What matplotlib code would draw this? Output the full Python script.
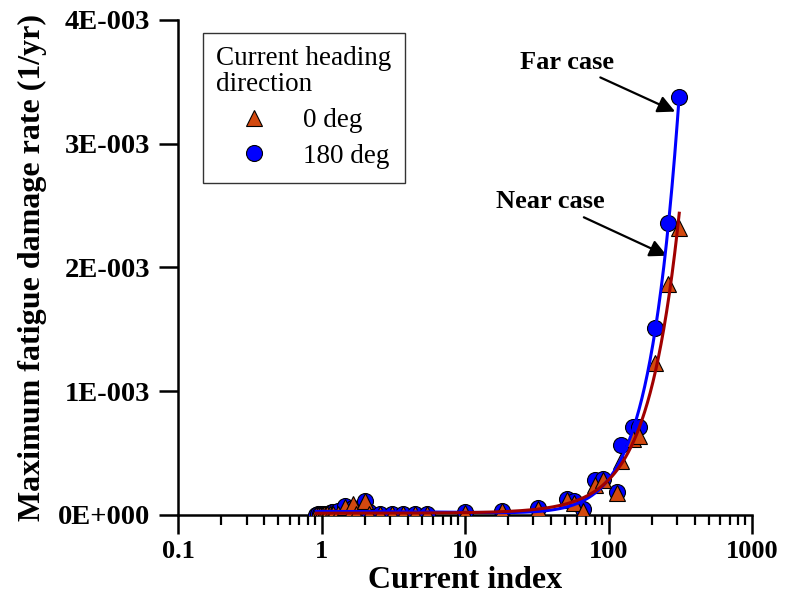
import numpy as np
import matplotlib
matplotlib.use("Agg")
import matplotlib.pyplot as plt

plt.rcParams['font.family'] = ['Liberation Serif', 'DejaVu Serif']

# Current index and max fatigue damage rate (1/yr) for both heading directions
current_index = [0.92, 0.95, 0.98, 1.01, 1.04, 1.07, 1.10, 1.14, 1.18, 1.21, 1.30,
                 1.45, 1.60, 1.67, 1.75, 2.00, 2.13, 2.54, 3.08, 3.72, 4.45, 5.39,
                 10, 18, 32, 51, 57, 66, 80, 91, 114, 123, 147, 164, 210, 260, 311]
damage_180 = [0.003, 0.004, 0.004, 0.005, 0.006, 0.008, 0.010, 0.015, 0.020, 0.025, 0.035,
              0.070, 0.050, 0.060, 0.030, 0.110, 0.020, 0.010, 0.010, 0.010, 0.010, 0.010,
              0.020, 0.035, 0.060, 0.130, 0.110, 0.050, 0.280, 0.290, 0.186, 0.565, 0.710,
              0.710, 1.510, 2.360, 3.380]
damage_0 = [0.002, 0.002, 0.003, 0.003, 0.004, 0.004, 0.005, 0.006, 0.007, 0.008, 0.010,
            0.065, 0.020, 0.090, 0.010, 0.115, 0.005, 0.004, 0.004, 0.004, 0.004, 0.004,
            0.015, 0.030, 0.045, 0.120, 0.100, 0.030, 0.240, 0.280, 0.180, 0.440, 0.610,
            0.640, 1.230, 1.870, 2.320]

x = np.array(current_index)
y180 = np.array(damage_180) * 1e-3
y0 = np.array(damage_0) * 1e-3

# quadratic trend lines fitted to each heading
fit180 = np.poly1d(np.polyfit(x, y180, 2))
fit0 = np.poly1d(np.polyfit(x, y0, 2))
xs = np.logspace(np.log10(x.min()), np.log10(x.max()), 400)

fig = plt.figure(figsize=(7.85, 6.04), dpi=100)
ax = fig.add_axes([0.2268, 0.1474, 0.7312, 0.8196])

ax.plot(x, y180, 'o', color='#0000FF', mec='black', mew=0.8, ms=11.5,
        label='180 deg', zorder=3)
ax.plot(x, y0, '^', color='#D2490F', mec='black', mew=0.8, ms=11.5,
        label='0 deg', zorder=4)
ax.plot(xs, fit180(xs), color='#0000FF', lw=2.2, zorder=5)
ax.plot(xs, fit0(xs), color='#A00000', lw=2.2, zorder=6)

ax.set_xscale('log')
ax.set_xlim(0.1, 1000)
ax.set_ylim(0, 4e-3)
ax.set_yticks([0, 1e-3, 2e-3, 3e-3, 4e-3])
ax.set_yticklabels(['0E+000', '1E-003', '2E-003', '3E-003', '4E-003'])
ax.set_xticks([0.1, 1, 10, 100, 1000])
ax.set_xticklabels(['0.1', '1', '10', '100', '1000'])

for side in ['top', 'right']:
    ax.spines[side].set_visible(False)
for side in ['left', 'bottom']:
    ax.spines[side].set_linewidth(1.8)

ax.tick_params(axis='x', which='major', direction='out', length=14, width=1.8,
               labelsize=19, pad=4)
ax.tick_params(axis='x', which='minor', direction='out', length=7, width=1.6)
ax.tick_params(axis='y', which='major', direction='out', length=14, width=1.8,
               labelsize=20.5, pad=6)
for lab in ax.get_xticklabels() + ax.get_yticklabels():
    lab.set_fontweight('bold')

ax.set_xlabel('Current index', fontsize=23, fontweight='bold', labelpad=2)
ax.set_ylabel('Maximum fatigue damage rate (1/yr)', fontsize=23,
              fontweight='bold', labelpad=8)

h, l = ax.get_legend_handles_labels()
leg = ax.legend(h[::-1], l[::-1], title='Current heading\ndirection',
                loc='upper left', bbox_to_anchor=(0.043, 0.974),
                borderaxespad=0, fontsize=19.5, title_fontsize=19.5,
                alignment='left', fancybox=False, framealpha=1,
                edgecolor='#333333', handlelength=2.8, handletextpad=0.4,
                borderpad=0.5, labelspacing=0.4)
leg.get_title().set_linespacing(1.05)
leg.get_frame().set_linewidth(1.0)

arrow = dict(arrowstyle='-|>', color='black', lw=1.6, mutation_scale=26)
ax.annotate('Far case', xy=(303, 3.25e-3), xytext=(51, 3.66e-3),
            fontsize=19, fontweight='bold', ha='center', va='center',
            arrowprops=arrow)
ax.annotate('Near case', xy=(266, 2.085e-3), xytext=(39.4, 2.53e-3),
            fontsize=19, fontweight='bold', ha='center', va='center',
            arrowprops=arrow)

fig.savefig('out.png', dpi=100)
